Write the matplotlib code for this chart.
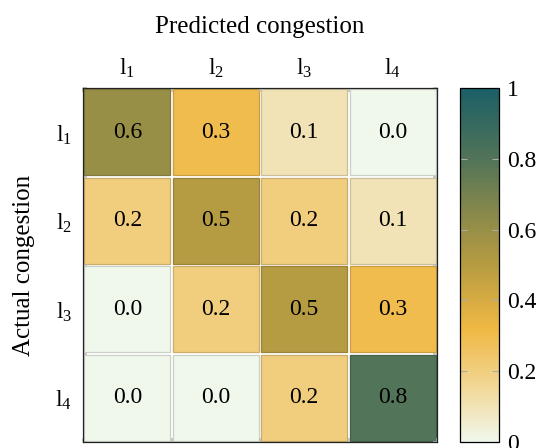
import numpy as np
import matplotlib
matplotlib.use('Agg')
import matplotlib.pyplot as plt
from matplotlib.colors import LinearSegmentedColormap, Normalize
from matplotlib.cm import ScalarMappable

plt.rcParams['font.family'] = ['Liberation Serif', 'DejaVu Serif']
plt.rcParams['mathtext.fontset'] = 'custom'
plt.rcParams['mathtext.rm'] = 'Liberation Serif'
plt.rcParams['mathtext.it'] = 'Liberation Serif:italic'

# data
predicted = [r'$\mathrm{l}_1$', r'$\mathrm{l}_2$', r'$\mathrm{l}_3$', r'$\mathrm{l}_4$']
actual = [r'$\mathrm{l}_1$', r'$\mathrm{l}_2$', r'$\mathrm{l}_3$', r'$\mathrm{l}_4$']
values = np.array([
    [0.6, 0.3, 0.1, 0.0],
    [0.2, 0.5, 0.2, 0.1],
    [0.0, 0.2, 0.5, 0.3],
    [0.0, 0.0, 0.2, 0.8],
])
cbar_ticks = [0, 0.2, 0.4, 0.6, 0.8, 1]
cbar_labels = ['0', '0.2', '0.4', '0.6', '0.8', '1']

cmap = LinearSegmentedColormap.from_list('cong', [
    (0.0, '#f0f8ec'),
    (0.1, '#f1e3b5'),
    (0.2, '#f1ce7e'),
    (0.32, '#f0b843'),
    (0.5, '#b69c42'),
    (0.6, '#988f47'),
    (0.8, '#527458'),
    (1.0, '#1b5f66'),
])
norm = Normalize(0, 1)

fig = plt.figure(figsize=(5.38, 4.48), dpi=100)
ax = fig.add_axes([83/538, 6/448, 354/538, 354/448])
cax = fig.add_axes([460/538, 6/448, 39/538, 354/448])

# cells as bars, one row at a time, with a small white gap
cols = np.arange(values.shape[1])
for i, row in enumerate(values):
    face = cmap(norm(row))
    edge = face.copy()
    edge[:, :3] = edge[:, :3] * 0.84
    ax.bar(cols + 0.5, 0.97, width=0.97, bottom=i + 0.015, color=face,
           edgecolor=edge, linewidth=0.9)
    for j, v in enumerate(row):
        ax.text(j + 0.5, i + 0.5, '%.1f' % v, ha='center', va='center', fontsize=17)

ax.set_xlim(0, 4)
ax.set_ylim(4, 0)
ax.xaxis.tick_top()
ax.set_xticks(cols + 0.5)
ax.set_xticklabels(predicted, fontsize=17)
ax.set_yticks(np.arange(4) + 0.5)
ax.set_yticklabels(actual, fontsize=17)
ax.tick_params(length=0)
ax.tick_params(axis='x', pad=6)
ax.tick_params(axis='y', pad=8)
ax.set_xticks(np.arange(5), minor=True)
ax.set_yticks(np.arange(5), minor=True)
ax.tick_params(which='minor', length=3, width=1.2, color='#bbbbbb', direction='in',
               top=True, bottom=True, left=True, right=True)
for s in ax.spines.values():
    s.set_color('#222222')
    s.set_linewidth(0.9)

fig.text(260/538, 1 - 33/448, 'Predicted congestion', fontsize=18, ha='center', va='baseline')
fig.text(24/538, 1 - 265/448, 'Actual congestion', fontsize=18, ha='center', va='center',
         rotation=90)

cb = fig.colorbar(ScalarMappable(norm=norm, cmap=cmap), cax=cax)
cb.set_ticks(cbar_ticks)
cb.set_ticklabels(cbar_labels)
cax.tick_params(labelsize=17, length=5, color='#aaaaaa', direction='in', left=True,
                right=True, width=0.8, pad=6)
cb.outline.set_linewidth(0.9)

fig.savefig('out.png', dpi=100)
